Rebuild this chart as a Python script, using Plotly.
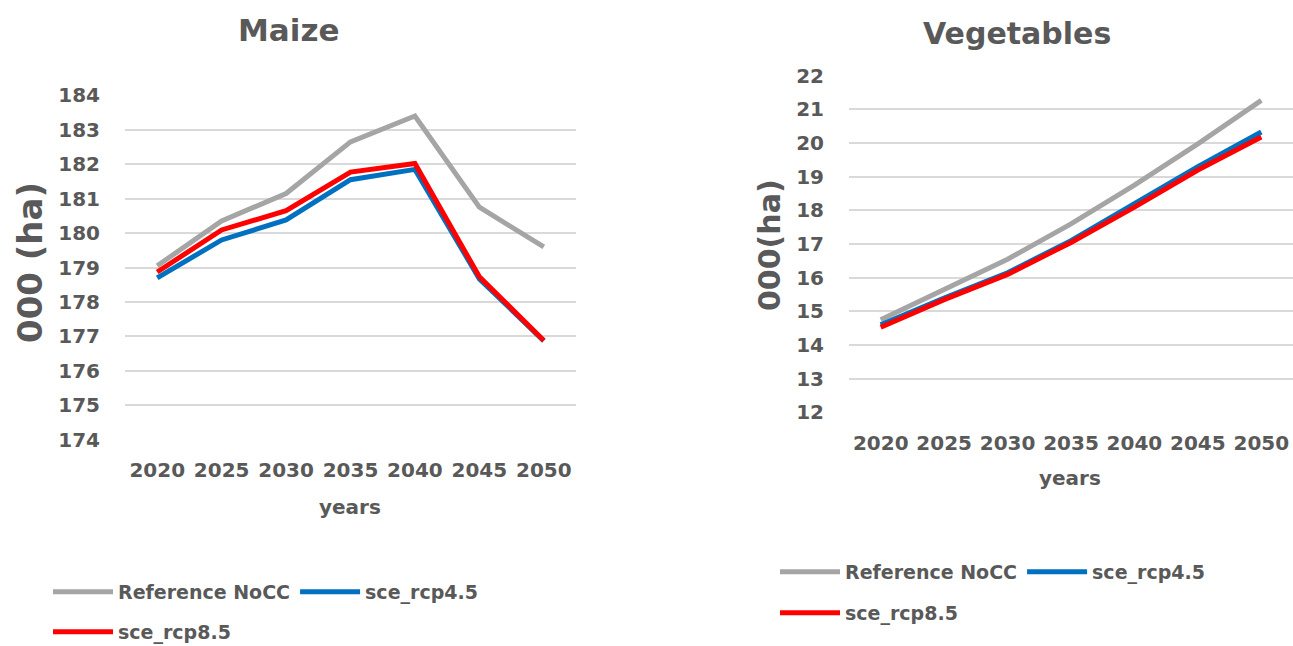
import plotly.graph_objects as go

W, H = 1293, 646

years = ["2020", "2025", "2030", "2035", "2040", "2045", "2050"]

maize_ref = [179.05, 180.35, 181.15, 182.65, 183.4, 180.75, 179.6]
maize_rcp45 = [178.7, 179.8, 180.38, 181.55, 181.85, 178.67, 176.87]
maize_rcp85 = [178.87, 180.09, 180.65, 181.77, 182.02, 178.73, 176.88]

veg_ref = [14.75, 15.65, 16.55, 17.6, 18.75, 19.98, 21.27]
veg_rcp45 = [14.6, 15.4, 16.15, 17.1, 18.2, 19.3, 20.33]
veg_rcp85 = [14.53, 15.35, 16.1, 17.05, 18.1, 19.2, 20.18]

series_names = ["Reference NoCC", "sce_rcp4.5", "sce_rcp8.5"]
colors = ["#a5a5a5", "#0070c0", "#ff0000"]

FONT = "DejaVu Sans"
TXT = "#595959"

fig = go.Figure()

maize_legends = ["legend", "legend", "legend2"]
veg_legends = ["legend3", "legend3", "legend4"]

for name, vals, col, lg in zip(series_names, [maize_ref, maize_rcp45, maize_rcp85], colors, maize_legends):
    fig.add_trace(go.Scatter(x=years, y=vals, name=name, mode="lines",
                             line=dict(color=col, width=5), xaxis="x", yaxis="y",
                             legend=lg))

for name, vals, col, lg in zip(series_names, [veg_ref, veg_rcp45, veg_rcp85], colors, veg_legends):
    fig.add_trace(go.Scatter(x=years, y=vals, name=name, mode="lines",
                             line=dict(color=col, width=5), xaxis="x2", yaxis="y2",
                             legend=lg))

tickfont = dict(family=FONT, size=20, color=TXT, weight="bold")
axis_common = dict(showline=False, zeroline=False, ticks="", automargin=False)

legend_common = dict(orientation="h", xanchor="left", yanchor="middle",
                     font=dict(family=FONT, size=19, color=TXT, weight="bold"),
                     bgcolor="rgba(0,0,0,0)", itemwidth=60, tracegroupgap=0)

fig.update_layout(
    width=W, height=H,
    margin=dict(l=0, r=0, t=0, b=0, pad=0, autoexpand=False),
    paper_bgcolor="white", plot_bgcolor="white",
    xaxis=dict(domain=[125 / W, 576 / W], type="category", range=[-0.5, 6.5],
               showgrid=False, tickfont=tickfont, ticklabelstandoff=16, anchor="y", **axis_common),
    yaxis=dict(domain=[1 - 440 / H, 1 - 95 / H], range=[173.99, 184.01], dtick=1,
               showgrid=True, gridcolor="#d9d9d9", gridwidth=2,
               tickfont=tickfont, ticklabelstandoff=24, anchor="x", **axis_common),
    xaxis2=dict(domain=[849 / W, 1.0], type="category", range=[-0.5, 6.5],
                showgrid=False, tickfont=tickfont, ticklabelstandoff=16, anchor="y2", **axis_common),
    yaxis2=dict(domain=[1 - 412.7 / H, 1 - 75.5 / H], range=[11.99, 22.01], dtick=1,
                showgrid=True, gridcolor="#d9d9d9", gridwidth=2,
                tickfont=tickfont, ticklabelstandoff=24, anchor="x2", **axis_common),
    legend=dict(x=48 / W, y=1 - 592 / H, **legend_common),
    legend2=dict(x=48 / W, y=1 - 632 / H, **legend_common),
    legend3=dict(x=775 / W, y=1 - 572 / H, **legend_common),
    legend4=dict(x=775 / W, y=1 - 613 / H, **legend_common),
    showlegend=True,
)

def ann(text, x, y, size, angle=0):
    fig.add_annotation(text=text, x=x / W, y=1 - y / H, xref="paper", yref="paper",
                       xanchor="center", yanchor="middle", showarrow=False, textangle=angle,
                       font=dict(family=FONT, size=size, color=TXT, weight="bold"))

ann("Maize", 288, 30, 31)
ann("Vegetables", 1017, 33, 30)
ann("000 (ha)", 30, 263, 34, -90)
ann("000(ha)", 770, 245, 30, -90)
ann("years", 350, 507, 20)
ann("years", 1070, 478, 20)

fig.write_html("out.html",
               config={"displayModeBar": False},
               post_script="document.body.style.margin='0';document.body.style.overflow='hidden';")
